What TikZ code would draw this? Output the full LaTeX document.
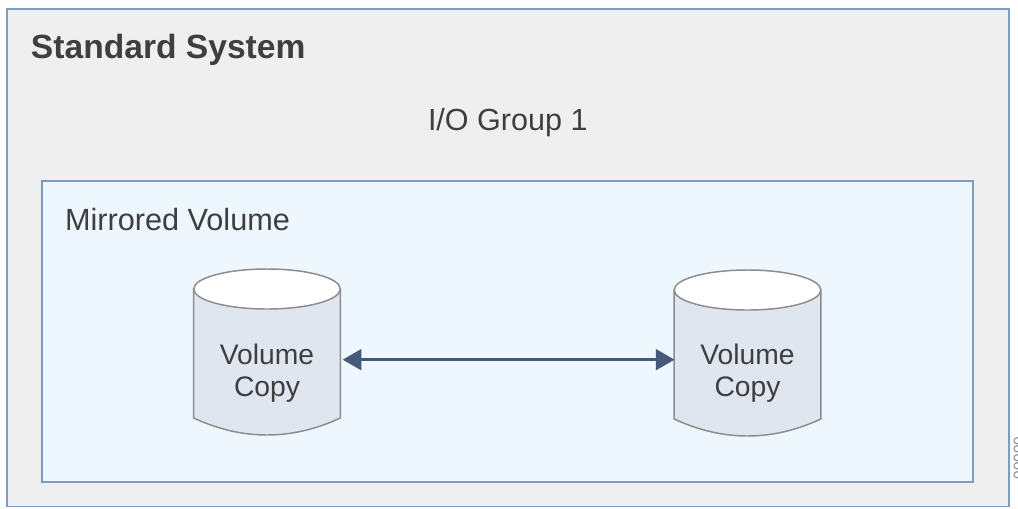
\documentclass[tikz,border=0pt]{standalone}
\usepackage{fontspec}
\setmainfont{Liberation Sans}
\usetikzlibrary{arrows.meta}
\definecolor{frameblue}{HTML}{7C9DBB}
\definecolor{outerfill}{HTML}{EFEFEF}
\definecolor{innerfill}{HTML}{EEF6FE}
\definecolor{cylfill}{HTML}{DFE6EF}
\definecolor{cyledge}{HTML}{8C8C8C}
\definecolor{arrowblue}{HTML}{47597A}
\definecolor{txt}{HTML}{3F3F3F}
\definecolor{figid}{HTML}{8F8F8F}
\tikzset{
  x=0.75pt,y=-0.75pt,
  panel/.style={draw=frameblue,line width=1.2pt,rectangle,inner sep=0pt,outer sep=0pt,anchor=north west},
  label/.style={text=txt,inner sep=0pt,outer sep=0pt,anchor=base west},
  volbox/.style={text=txt,font=\fontsize{21.2pt}{24pt}\selectfont,align=center,inner sep=0pt,outer sep=0pt,minimum width=109.5pt},
  cylbody/.style={fill=cylfill,draw=cyledge,line width=1.1pt},
  cyltop/.style={fill=white,draw=cyledge,line width=1.1pt},
  link/.style={draw=arrowblue,line width=2.3pt,{Triangle[length=14pt,width=15.5pt]}-{Triangle[length=14pt,width=15.5pt]}}
}
\newcommand{\cyl}[2]{%
  \path[cylbody] (#1-73.3,#2) -- (#1-73.3,#2+129)
    .. controls (#1-49,#2+140.3) and (#1-24.4,#2+146) .. (#1,#2+146)
    .. controls (#1+24.4,#2+146) and (#1+49,#2+140.3) .. (#1+73.3,#2+129)
    -- (#1+73.3,#2) -- cycle;
  \path[cyltop] (#1,#2) ellipse [x radius=73.3,y radius=20];
}
\begin{document}
\begin{tikzpicture}
\useasboundingbox (0,0) rectangle (1018,508);
\node[panel,fill=outerfill,minimum width=751.5pt,minimum height=373pt] (outer) at (7,9) {};
\node[panel,fill=innerfill,minimum width=698.2pt,minimum height=225.7pt] (inner) at (42,181) {};
\node[label,font=\fontsize{25.2pt}{30pt}\selectfont\bfseries] (title) at (31,58) {Standard System};
\node[label,font=\fontsize{22.9pt}{27pt}\selectfont] (group) at (428,130) {I/O Group 1};
\node[label,font=\fontsize{23pt}{27pt}\selectfont] (mirror) at (65,230) {Mirrored Volume};
\cyl{267}{289}
\cyl{747.5}{290}
\node[volbox] (copyA) at (267,373) {Volume\\Copy};
\node[volbox] (copyB) at (747.5,373) {Volume\\Copy};
\draw[link,shorten <=2pt] ([yshift=10pt]copyA.east) -- ([yshift=10pt]copyB.west);
\node[text=figid,font=\fontsize{11.5pt}{12pt}\selectfont,rotate=90,inner sep=0pt] (figno) at (1019,458) {00000};
\end{tikzpicture}
\end{document}
